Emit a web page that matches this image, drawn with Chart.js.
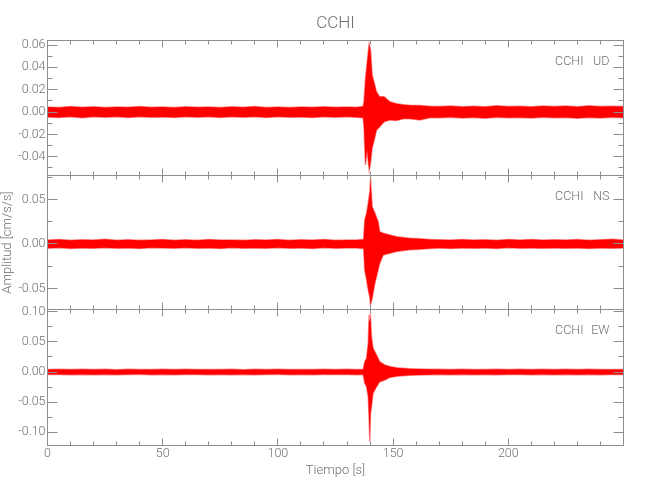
<!DOCTYPE html>
<html>
<head>
<meta charset="utf-8">
<script src="https://cdn.jsdelivr.net/npm/chart.js@4.4.0/dist/chart.umd.min.js"></script>
<style>
html,body{margin:0;padding:0;background:#fff;}
#wrap{position:relative;width:650px;height:500px;overflow:hidden;}
#wrap canvas{position:absolute;left:0;top:0;}
</style>
</head>
<body>
<div id="wrap">
<canvas id="cUD" width="650" height="500"></canvas>
<canvas id="cNS" width="650" height="500"></canvas>
<canvas id="cEW" width="650" height="500"></canvas>
</div>
<script>
// ---- data ----
const station = "CCHI";
const components = ["UD", "NS", "EW"];
const xTickValues = [0, 50, 100, 150, 200];
const udTickValues = [-0.04, -0.02, 0.00, 0.02, 0.04, 0.06];
const nsTickValues = [-0.05, 0.00, 0.05];
const ewTickValues = [-0.10, -0.05, 0.00, 0.05, 0.10];

// envelope of each trace: time [s], upper and lower amplitude [cm/s/s]
const udTime = [0,5,10,15,20,25,30,35,40,45,50,55,60,65,70,75,80,85,90,95,100,105,110,115,120,125,130,134,
  137.0,137.4,138.0,138.7,139.6,140.2,140.9,141.8,142.8,144.2,146.1,148.6,151.5,154.5,157.2,161.6,165.9,
  170,175,180,185,190,195,200,205,210,215,220,225,230,235,240,245,250];
const udHigh = [0.0046,0.0040,0.0050,0.0042,0.0048,0.0041,0.0045,0.0043,0.0049,0.0042,0.0046,0.0040,0.0048,0.0043,0.0045,0.0041,0.0047,0.0043,0.0049,0.0041,0.0046,0.0040,0.0045,0.0042,0.0048,0.0043,0.0046,0.0044,
  0.0050,0.0100,0.0293,0.0436,0.0609,0.0555,0.0331,0.0260,0.0180,0.0137,0.0137,0.0092,0.0075,0.0065,0.0060,0.0058,0.0052,
  0.0050,0.0055,0.0047,0.0052,0.0048,0.0056,0.0049,0.0053,0.0047,0.0055,0.0050,0.0054,0.0048,0.0056,0.0050,0.0053,0.0049];
const udLow = [-0.0045,-0.0049,-0.0042,-0.0050,-0.0041,-0.0046,-0.0043,-0.0048,-0.0041,-0.0047,-0.0044,-0.0049,-0.0042,-0.0046,-0.0043,-0.0048,-0.0041,-0.0046,-0.0043,-0.0049,-0.0042,-0.0046,-0.0044,-0.0048,-0.0042,-0.0046,-0.0043,-0.0047,
  -0.0050,-0.0150,-0.0474,-0.0340,-0.0519,-0.0457,-0.0322,-0.0250,-0.0160,-0.0132,-0.0087,-0.0072,-0.0075,-0.0060,-0.0060,-0.0072,-0.0052,
  -0.0050,-0.0046,-0.0053,-0.0048,-0.0055,-0.0047,-0.0052,-0.0049,-0.0054,-0.0047,-0.0052,-0.0048,-0.0055,-0.0049,-0.0053,-0.0047,-0.0051];

const nsTime = [0,5,10,15,20,25,30,35,40,45,50,55,60,65,70,75,80,85,90,95,100,105,110,115,120,125,130,134,
  137.2,137.7,138.5,139.2,139.9,140.2,140.9,142.1,143.5,144.2,145.7,148.6,151.5,157.2,161.6,165.9,
  170,175,180,185,190,195,200,205,210,215,220,225,230,235,240,245,250];
const nsHigh = [0.0045,0.0050,0.0042,0.0047,0.0044,0.0052,0.0043,0.0048,0.0041,0.0046,0.0050,0.0043,0.0047,0.0042,0.0049,0.0044,0.0046,0.0041,0.0048,0.0045,0.0051,0.0042,0.0047,0.0044,0.0049,0.0043,0.0046,0.0045,
  0.0050,0.0270,0.0345,0.0458,0.0588,0.0739,0.0420,0.0345,0.0250,0.0138,0.0120,0.0100,0.0082,0.0065,0.0058,0.0050,
  0.0048,0.0044,0.0050,0.0045,0.0047,0.0043,0.0049,0.0046,0.0051,0.0044,0.0048,0.0045,0.0050,0.0043,0.0047,0.0052,0.0046];
const nsLow = [-0.0047,-0.0043,-0.0050,-0.0044,-0.0048,-0.0042,-0.0049,-0.0045,-0.0051,-0.0043,-0.0046,-0.0049,-0.0042,-0.0047,-0.0044,-0.0050,-0.0043,-0.0048,-0.0045,-0.0049,-0.0042,-0.0047,-0.0044,-0.0050,-0.0043,-0.0048,-0.0045,-0.0046,
  -0.0050,-0.0292,-0.0405,-0.0517,-0.0600,-0.0686,-0.0611,-0.0442,-0.0290,-0.0217,-0.0124,-0.0105,-0.0086,-0.0065,-0.0060,-0.0050,
  -0.0046,-0.0050,-0.0044,-0.0048,-0.0045,-0.0051,-0.0043,-0.0047,-0.0045,-0.0049,-0.0044,-0.0048,-0.0046,-0.0050,-0.0044,-0.0047,-0.0045];

const ewTime = [0,5,10,15,20,25,30,35,40,45,50,55,60,65,70,75,80,85,90,95,100,105,110,115,120,125,130,134,
  137.0,137.7,138.5,139.2,139.6,139.9,140.2,140.6,141.3,142.8,144.2,146.4,148.6,151.5,157.2,161.6,165.9,
  170,175,180,185,190,195,200,205,210,215,220,225,230,235,240,245,250];
const ewHigh = [0.0042,0.0045,0.0040,0.0046,0.0041,0.0044,0.0039,0.0045,0.0042,0.0040,0.0044,0.0041,0.0046,0.0040,0.0043,0.0041,0.0045,0.0039,0.0044,0.0042,0.0046,0.0040,0.0043,0.0041,0.0045,0.0040,0.0044,0.0042,
  0.0040,0.0171,0.0227,0.0476,0.0950,0.0850,0.0917,0.0585,0.0393,0.0282,0.0171,0.0116,0.0090,0.0070,0.0055,0.0050,0.0045,
  0.0044,0.0041,0.0045,0.0040,0.0043,0.0046,0.0041,0.0044,0.0040,0.0045,0.0042,0.0044,0.0040,0.0046,0.0042,0.0043,0.0041];
const ewLow = [-0.0043,-0.0040,-0.0046,-0.0041,-0.0044,-0.0040,-0.0045,-0.0042,-0.0039,-0.0044,-0.0041,-0.0045,-0.0040,-0.0043,-0.0046,-0.0041,-0.0044,-0.0040,-0.0045,-0.0042,-0.0039,-0.0044,-0.0041,-0.0046,-0.0040,-0.0043,-0.0042,-0.0044,
  -0.0040,-0.0187,-0.0244,-0.0410,-0.0800,-0.1150,-0.0685,-0.0575,-0.0353,-0.0244,-0.0161,-0.0133,-0.0090,-0.0070,-0.0055,-0.0050,-0.0045,
  -0.0042,-0.0045,-0.0040,-0.0044,-0.0041,-0.0046,-0.0042,-0.0040,-0.0045,-0.0041,-0.0044,-0.0040,-0.0045,-0.0042,-0.0044,-0.0041,-0.0043];

// ---- style ----
const FONT = 'Roboto, "Liberation Sans", sans-serif';
const TEXT = '#707070';
const AXIS = '#8e8e8e';
const TRACE = '#ff0000';

const snap = v => Math.floor(v) + 0.5;

const frameTicks = {
  id: 'frameTicks',
  afterDatasetsDraw(chart, args, o) {
    const {ctx, chartArea: a} = chart;
    const xs = chart.scales.x, ys = chart.scales.y;
    const L = snap(a.left), R = snap(a.right), T = snap(a.top), B = snap(a.bottom);
    ctx.save();
    ctx.strokeStyle = AXIS;
    ctx.lineWidth = 1;
    ctx.beginPath();
    for (let i = 0; ; i++) {
      const v = xs.min + i * o.xMinorStep;
      if (v > xs.max + 1e-9) break;
      const px = snap(xs.getPixelForValue(v));
      const major = Math.abs(v / o.xMajorStep - Math.round(v / o.xMajorStep)) < 1e-6;
      const len = major ? 7 : 4;
      ctx.moveTo(px, T); ctx.lineTo(px, T + len);
      ctx.moveTo(px, B); ctx.lineTo(px, B - len);
    }
    const first = Math.ceil(ys.min / o.yMinorStep - 1e-9);
    for (let k = first; ; k++) {
      const v = k * o.yMinorStep;
      if (v > ys.max + 1e-12) break;
      const py = snap(ys.getPixelForValue(v));
      const major = Math.abs(v / o.yMajorStep - Math.round(v / o.yMajorStep)) < 1e-6;
      const len = major ? 10 : 5;
      ctx.moveTo(L, py); ctx.lineTo(L + len, py);
      ctx.moveTo(R, py); ctx.lineTo(R - len, py);
    }
    ctx.stroke();
    ctx.strokeRect(L, T, R - L, B - T);
    ctx.fillStyle = TEXT;
    ctx.font = '300 12.5px ' + FONT;
    ctx.textBaseline = 'middle';
    ctx.textAlign = 'right';
    ctx.fillText(o.station, a.right - 40, a.top + 21.5);
    ctx.fillText(o.comp, a.right - 14, a.top + 21.5);
    ctx.restore();
  }
};

function makeChart(id, c) {
  const up = c.time.map((t, i) => ({x: t, y: c.high[i]}));
  const dn = c.time.map((t, i) => ({x: t, y: c.low[i]}));
  return new Chart(document.getElementById(id), {
    type: 'line',
    data: {
      datasets: [
        {data: up, borderColor: 'rgba(255,0,0,0.45)', borderWidth: 1.5, pointRadius: 0, fill: false, tension: 0},
        {data: dn, borderColor: 'rgba(255,0,0,0.45)', borderWidth: 1.5, pointRadius: 0, fill: '-1', backgroundColor: TRACE, tension: 0}
      ]
    },
    options: {
      responsive: false,
      animation: false,
      devicePixelRatio: 1,
      layout: {padding: c.padding},
      plugins: {
        legend: {display: false},
        tooltip: {enabled: false},
        title: c.title || {display: false},
        frameTicks: {station: station, comp: c.comp, xMinorStep: 10, xMajorStep: 50, yMinorStep: c.yMinor, yMajorStep: c.yMajor}
      },
      scales: {
        x: {
          type: 'linear', min: 0, max: 250, display: c.showX,
          grid: {display: false, drawTicks: false}, border: {display: false},
          afterBuildTicks: s => { s.ticks = xTickValues.map(v => ({value: v})); },
          afterFit: s => { if (c.showX) s.height = 55; },
          ticks: {color: TEXT, font: {family: FONT, size: 12.5, weight: 300}, padding: 1, maxRotation: 0, autoSkip: false, callback: v => String(v)},
          title: {display: c.showX, text: 'Tiempo [s]', color: TEXT, font: {family: FONT, size: 13, weight: 300}, padding: {top: 0, bottom: 21}}
        },
        y: {
          type: 'linear', min: c.yMin, max: c.yMax,
          grid: {display: false, drawTicks: false}, border: {display: false},
          afterBuildTicks: s => { s.ticks = c.ticks.map(v => ({value: v})); },
          afterFit: s => { s.width = 47.5; },
          ticks: {color: TEXT, font: {family: FONT, size: 12.5, weight: 300}, padding: 2, autoSkip: false, includeBounds: false, callback: v => Number(v).toFixed(2)},
          title: c.yTitle || {display: false}
        }
      }
    },
    plugins: [frameTicks]
  });
}

makeChart('cUD', {
  time: udTime, high: udHigh, low: udLow, ticks: udTickValues, comp: components[0],
  yMin: -0.0568, yMax: 0.0645, yMinor: 0.01, yMajor: 0.02, showX: false,
  padding: {left: 0, right: 26.5, top: 0, bottom: 324.5},
  title: {display: true, text: station, color: TEXT, font: {family: FONT, size: 17, weight: 300}, padding: {top: 13.6, bottom: 6}, fullSize: false}
});
makeChart('cNS', {
  time: nsTime, high: nsHigh, low: nsLow, ticks: nsTickValues, comp: components[1],
  yMin: -0.0737, yMax: 0.0770, yMinor: 0.025, yMajor: 0.05, showX: false,
  padding: {left: 0, right: 26.5, top: 175.5, bottom: 190.5},
  yTitle: {display: true, text: 'Amplitud [cm/s/s]', color: TEXT, font: {family: FONT, size: 13, weight: 300}, padding: {top: 0, bottom: 0}}
});
makeChart('cEW', {
  time: ewTime, high: ewHigh, low: ewLow, ticks: ewTickValues, comp: components[2],
  yMin: -0.121, yMax: 0.1036, yMinor: 0.025, yMajor: 0.05, showX: true,
  padding: {left: 0, right: 26.5, top: 309.5, bottom: 0}
});
</script>
</body>
</html>
